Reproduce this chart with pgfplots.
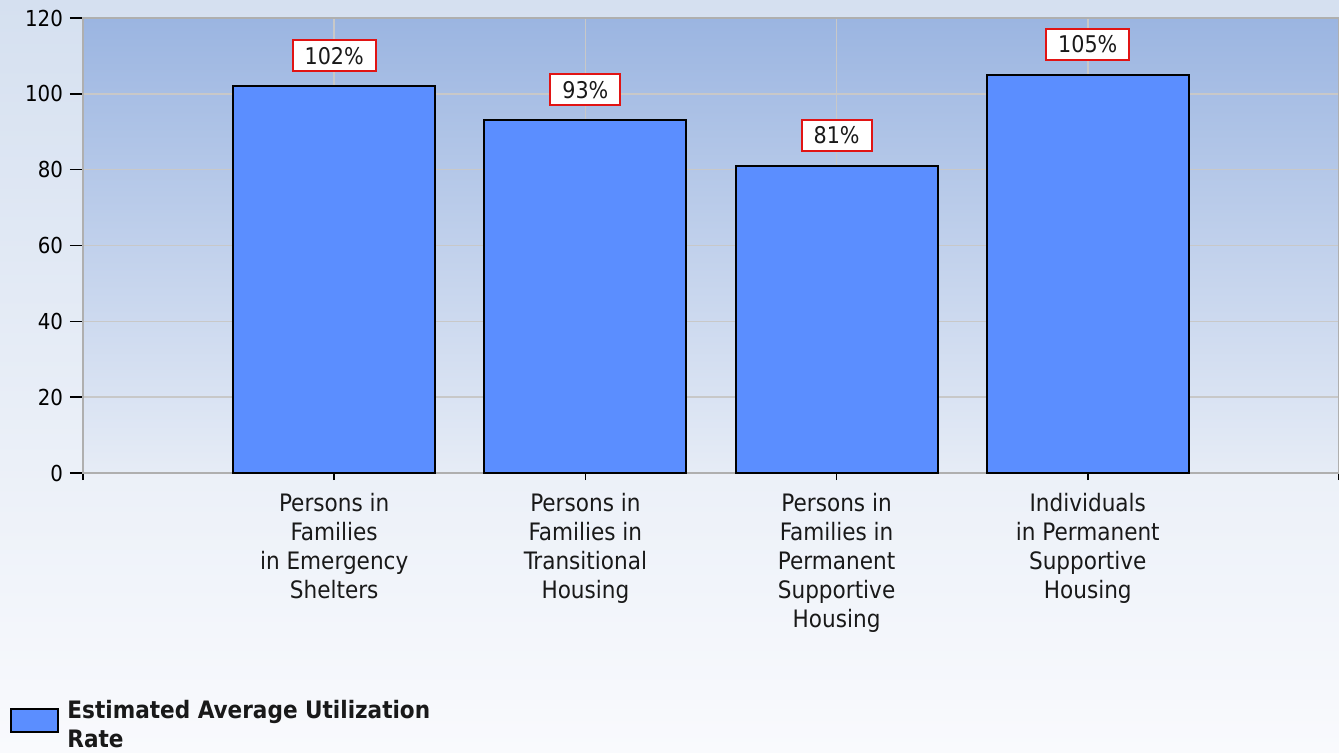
\documentclass[border=0pt]{standalone}
\usepackage{pgfplots}
\pgfplotsset{compat=1.18}
\usepackage{fontspec}
\setmainfont{DejaVu Sans Condensed}
\definecolor{barblue}{RGB}{91,142,255}
\definecolor{outtop}{RGB}{213,224,240}
\definecolor{outbot}{RGB}{249,250,253}
\definecolor{plottop}{RGB}{155,181,225}
\definecolor{plotbot}{RGB}{230,236,246}
\definecolor{gridgray}{RGB}{200,200,200}
\definecolor{axisgray}{RGB}{175,175,175}
\definecolor{labelred}{RGB}{225,20,20}
\definecolor{textdark}{RGB}{25,25,25}
\begin{document}
\begin{tikzpicture}
\useasboundingbox (-41.5pt,-139.5pt) rectangle (628pt,236.5pt);
\shade[top color=outtop, bottom color=outbot] (-41.5pt,-139.5pt) rectangle (628pt,236.5pt);
\begin{axis}[
  at={(0pt,0pt)}, anchor=south west,
  scale only axis, width=628pt, height=227.5pt,
  xmin=0, xmax=5, ymin=0, ymax=120,
  xtick={0,1,2,3,4,5},
  xticklabels={,{Persons in\\Families\\in Emergency\\Shelters},{Persons in\\Families in\\Transitional\\Housing},{Persons in\\Families in\\Permanent\\Supportive\\Housing},{Individuals\\in Permanent\\Supportive\\Housing},},
  ytick={0,20,40,60,80,100,120},
  xtick pos=left, ytick pos=left,
  tick align=outside,
  major tick length=6.5pt,
  xtick style={/pgfplots/major tick length=3.5pt},
  tick style={black, line width=0.8pt},
  grid=major,
  grid style={draw=gridgray, line width=0.75pt},
  axis line style={draw=axisgray, line width=0.75pt},
  axis background/.style={top color=plottop, bottom color=plotbot},
  /pgf/number format/assume math mode=true,
  yticklabel style={font=\fontsize{11}{13}\selectfont, text=black},
  xticklabel style={align=center, font=\fontsize{12}{14.5}\selectfont, text=textdark},
  ybar, bar width=101pt,
  nodes near coords={\pgfmathprintnumber{\pgfplotspointmeta}\%},
  every node near coord/.append style={fill=white, draw=labelred, line width=1pt,
     inner xsep=6pt, inner ysep=1pt, minimum height=15.5pt, yshift=7pt,
     font=\fontsize{11.5}{13}\selectfont, text=textdark},
  legend style={at={(axis description cs:-0.0581,-0.4905)}, anchor=north west,
     draw=none, fill=none, inner sep=0pt,
     nodes={align=left, font=\bfseries\fontsize{12}{14.5}\selectfont, text=textdark}},
  legend cell align=left,
]
\addplot[fill=barblue, draw=black, line width=1pt,
  legend image code/.code={\draw[fill=barblue, draw=black, line width=1pt] (0pt,-3pt) rectangle (23.5pt,8.5pt); \path (25.5pt,0pt);}]
  coordinates {(1,102) (2,93) (3,81) (4,105)};
\addlegendentry{Estimated Average Utilization\\Rate}
\end{axis}
\end{tikzpicture}
\end{document}
